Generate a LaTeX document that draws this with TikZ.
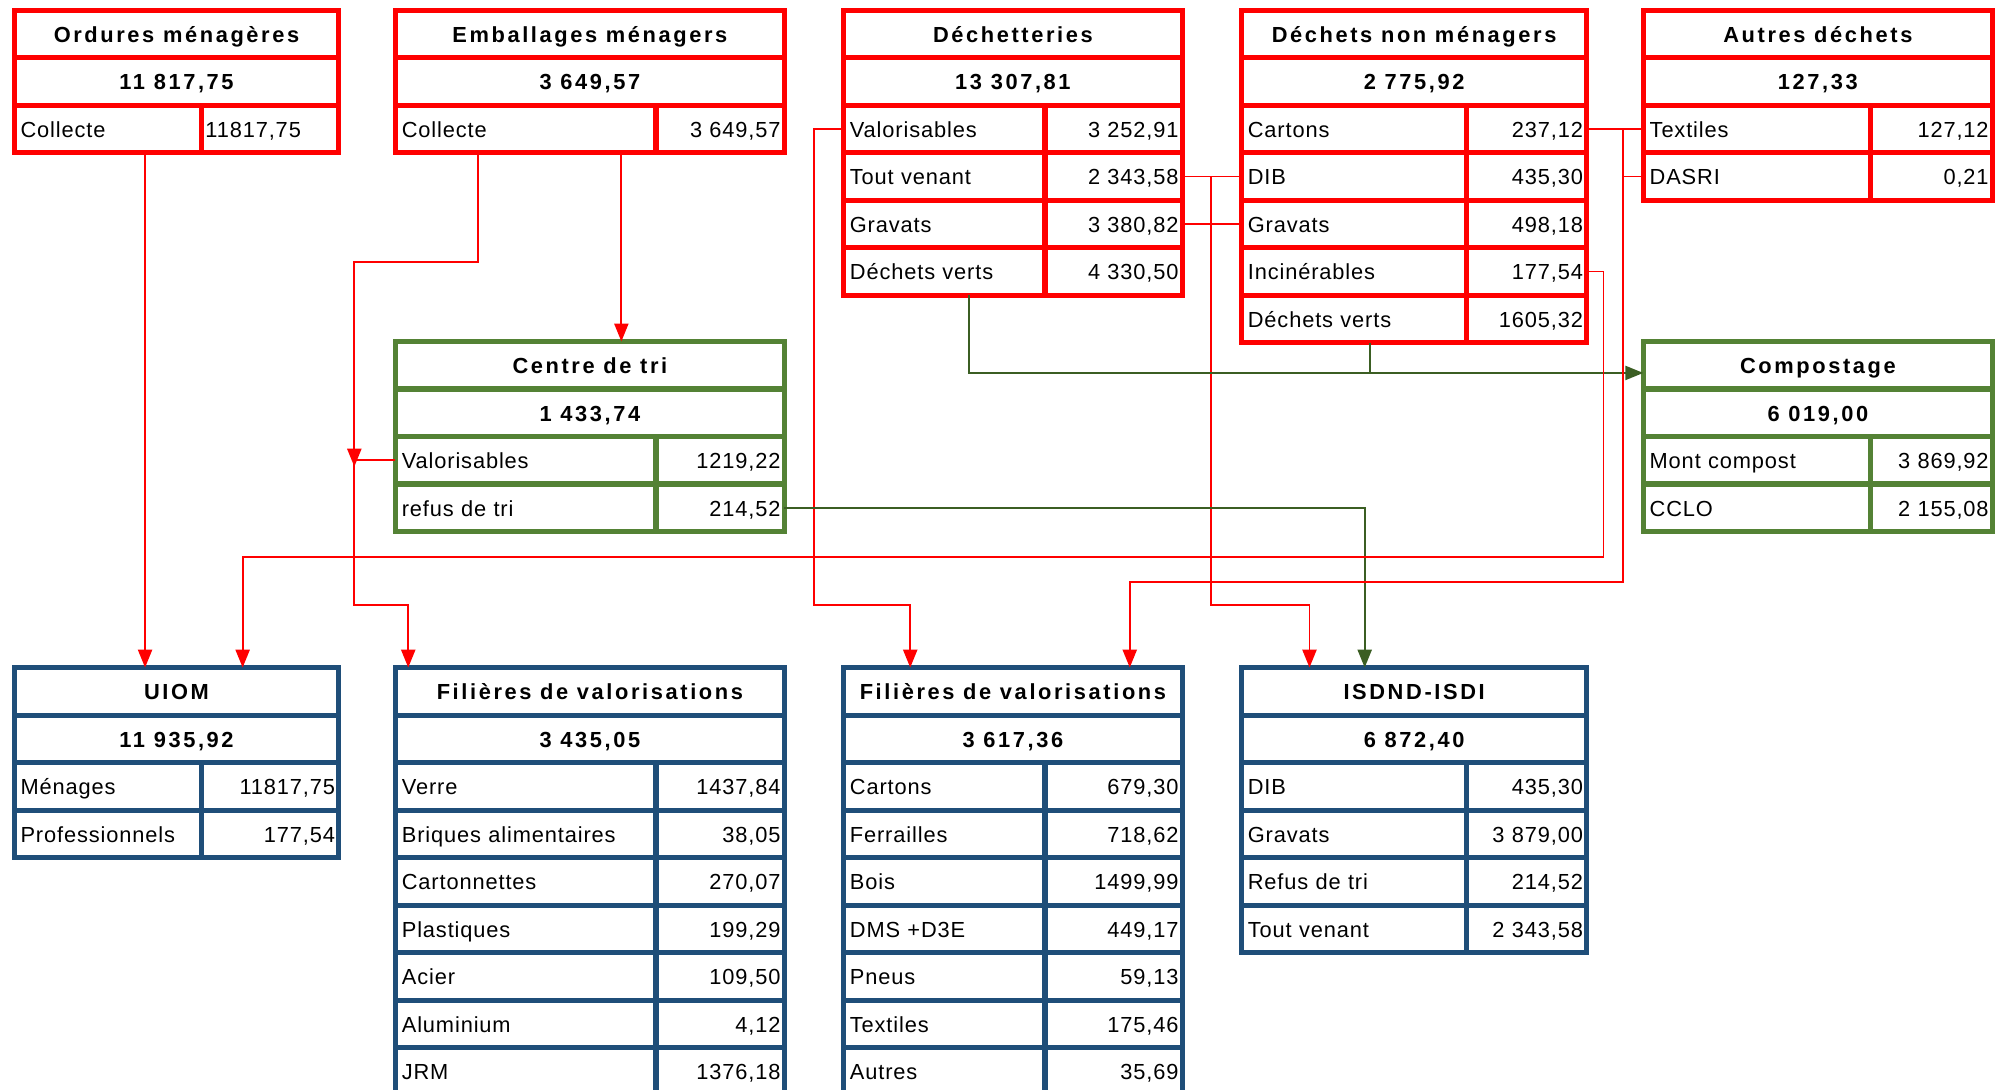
\documentclass[tikz,border=0pt]{standalone}
\usepackage{fontspec}
\setmainfont{Liberation Sans}[LetterSpace=4]
\newfontfamily\headfont{Liberation Sans}[LetterSpace=12]
\usetikzlibrary{matrix,positioning,arrows.meta}
\definecolor{wred}{HTML}{FF0000}
\definecolor{wgreen}{HTML}{548235}
\definecolor{wblue}{HTML}{1F4E79}
\definecolor{wdark}{HTML}{3B5E23}
\begin{document}
\begin{tikzpicture}[
x=1pt,y=-1pt,
every node/.append style={font={\fontsize{17}{20}\selectfont}},
cell/.style={draw=#1,line width=4pt,outer sep=0pt,inner ysep=0pt,minimum height=37pt,text height=13pt,text depth=0pt},
tot/.style={cell=#1,font={\headfont\bfseries\fontsize{17}{20}\selectfont}},
head/.style={tot=#1,anchor=north west},
tab/.style={matrix of nodes,inner sep=0pt,outer sep=0pt,row sep=-4pt,column sep=-4pt,nodes={cell=#1}},
cols/.style 2 args={column 1/.style={nodes={text width=#1-10pt,inner xsep=5pt,align=left}},
  column 2/.style={nodes={text width=#2-6pt,inner xsep=3pt,align=right}}},
flow/.style={wred,line width=1.5pt,-{Triangle[length=14pt,width=11pt]}},
link/.style={wred,line width=1.5pt},
gflow/.style={wdark,line width=1.5pt,-{Triangle[length=14pt,width=11pt]}},
glink/.style={wdark,line width=1.5pt},
]
\useasboundingbox (0,0) rectangle (1568,849);

\node[head=wred,minimum width=253pt] (ord-t) at (11,8) {Ordures ménagères};
\node[tot=wred,minimum width=253pt,below=0pt of ord-t] (ord-n) {11 817,75};
\matrix[tab=wred,cols={146pt}{107pt},below=-2pt of ord-n] (ord) {
Collecte & |[align=left]| 11817,75 \\
};

\node[head=wred,minimum width=303pt] (emb-t) at (308,8) {Emballages ménagers};
\node[tot=wred,minimum width=303pt,below=0pt of emb-t] (emb-n) {3 649,57};
\matrix[tab=wred,cols={203pt}{100pt},below=-2pt of emb-n] (emb) {
Collecte & 3 649,57 \\
};

\node[head=wred,minimum width=264pt] (dech-t) at (657,8) {Déchetteries};
\node[tot=wred,minimum width=264pt,below=0pt of dech-t] (dech-n) {13 307,81};
\matrix[tab=wred,cols={157pt}{107pt},below=-2pt of dech-n] (dech) {
Valorisables & 3 252,91 \\
Tout venant & 2 343,58 \\
Gravats & 3 380,82 \\
Déchets verts & 4 330,50 \\
};

\node[head=wred,minimum width=269pt] (dnm-t) at (967,8) {Déchets non ménagers};
\node[tot=wred,minimum width=269pt,below=0pt of dnm-t] (dnm-n) {2 775,92};
\matrix[tab=wred,cols={175pt}{94pt},below=-2pt of dnm-n] (dnm) {
Cartons & 237,12 \\
DIB & 435,30 \\
Gravats & 498,18 \\
Incinérables & 177,54 \\
Déchets verts & 1605,32 \\
};

\node[head=wred,minimum width=272pt] (aut-t) at (1280,8) {Autres déchets};
\node[tot=wred,minimum width=272pt,below=0pt of aut-t] (aut-n) {127,33};
\matrix[tab=wred,cols={177pt}{95pt},below=-2pt of aut-n] (aut) {
Textiles & 127,12 \\
DASRI & 0,21 \\
};

\node[head=wgreen,minimum width=303pt] (tri-t) at (308,266) {Centre de tri};
\node[tot=wgreen,minimum width=303pt,below=0pt of tri-t] (tri-n) {1 433,74};
\matrix[tab=wgreen,cols={203pt}{100pt},below=-2pt of tri-n] (tri) {
Valorisables & 1219,22 \\
refus de tri & 214,52 \\
};

\node[head=wgreen,minimum width=272pt] (comp-t) at (1280,266) {Compostage};
\node[tot=wgreen,minimum width=272pt,below=0pt of comp-t] (comp-n) {6 019,00};
\matrix[tab=wgreen,cols={177pt}{95pt},below=-2pt of comp-n] (comp) {
Mont compost & 3 869,92 \\
CCLO & 2 155,08 \\
};

\node[head=wblue,minimum width=253pt] (uiom-t) at (11,520) {UIOM};
\node[tot=wblue,minimum width=253pt,below=0pt of uiom-t] (uiom-n) {11 935,92};
\matrix[tab=wblue,cols={146pt}{107pt},below=-2pt of uiom-n] (uiom) {
Ménages & 11817,75 \\
Professionnels & 177,54 \\
};

\node[head=wblue,minimum width=303pt] (fv1-t) at (308,520) {Filières de valorisations};
\node[tot=wblue,minimum width=303pt,below=0pt of fv1-t] (fv1-n) {3 435,05};
\matrix[tab=wblue,cols={203pt}{100pt},below=-2pt of fv1-n] (fv1) {
Verre & 1437,84 \\
Briques alimentaires & 38,05 \\
Cartonnettes & 270,07 \\
Plastiques & 199,29 \\
Acier & 109,50 \\
Aluminium & 4,12 \\
JRM & 1376,18 \\
};

\node[head=wblue,minimum width=264pt] (fv2-t) at (657,520) {Filières de valorisations};
\node[tot=wblue,minimum width=264pt,below=0pt of fv2-t] (fv2-n) {3 617,36};
\matrix[tab=wblue,cols={157pt}{107pt},below=-2pt of fv2-n] (fv2) {
Cartons & 679,30 \\
Ferrailles & 718,62 \\
Bois & 1499,99 \\
DMS +D3E & 449,17 \\
Pneus & 59,13 \\
Textiles & 175,46 \\
Autres & 35,69 \\
};

\node[head=wblue,minimum width=269pt] (isd-t) at (967,520) {ISDND-ISDI};
\node[tot=wblue,minimum width=269pt,below=0pt of isd-t] (isd-n) {6 872,40};
\matrix[tab=wblue,cols={175pt}{94pt},below=-2pt of isd-n] (isd) {
DIB & 435,30 \\
Gravats & 3 879,00 \\
Refus de tri & 214,52 \\
Tout venant & 2 343,58 \\
};

\coordinate (jv) at ([xshift=-32pt]tri-1-1.west);
\coordinate (gj) at ([yshift=-6pt]comp-t.west);
\coordinate (dv) at ([xshift=-34.5pt]dnm-5-1.south -| dnm.south);
\coordinate (tx) at ([xshift=28pt]dnm-1-2.east);

\draw[flow] ([xshift=-24.5pt]ord-1-1.south -| ord.south) -- ([xshift=-24.5pt]uiom-t.north);
\draw[flow] ([xshift=-87.5pt]emb-1-1.south -| emb.south) |- (276,204) -- ([yshift=-5pt]jv);
\draw[flow] ([xshift=24.5pt]emb-1-1.south -| emb.south) -- ([xshift=24.5pt]tri-t.north);
\draw[flow] (tri-1-1.west) -- (jv) -- (276,471) -| ([xshift=-141.5pt]fv1-t.north);
\draw[flow] (dech-1-1.west) -| (634,471) -| ([xshift=-80pt]fv2-t.north);
\draw[link] (dech-2-2.east) -- (dnm-2-1.west);
\draw[link] (dech-3-2.east) -- (dnm-3-1.west);
\draw[flow] ([xshift=22pt]dech-2-2.east) -- (943,471) -| ([xshift=-81.5pt]isd-t.north);
\draw[gflow] ([xshift=-34pt]dech-4-1.south -| dech.south) |- (gj);
\draw[glink] (dv) -- (dv |- gj);
\draw[gflow] (tri-2-2.east) -| ([xshift=-38.5pt]isd-t.north);
\draw[link] (dnm-1-2.east) -- (aut-1-1.west);
\draw[link] (aut-2-1.west) -- (aut-2-1.west -| tx);
\draw[flow] (tx) -- (tx |- 0,453) -| ([xshift=91pt]fv2-t.north);
\draw[flow] (dnm-4-2.east) -| (1249,434) -| ([xshift=51.5pt]uiom-t.north);

\end{tikzpicture}
\end{document}
